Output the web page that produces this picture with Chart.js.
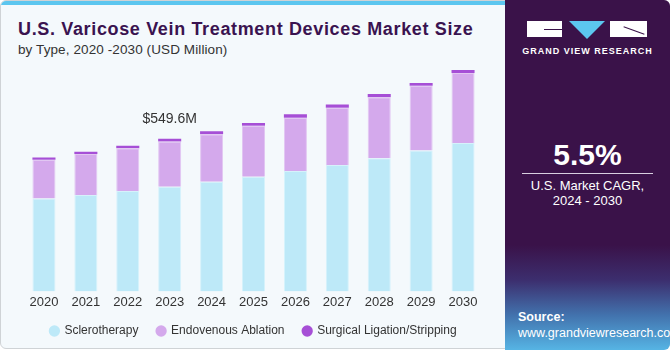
<!DOCTYPE html>
<html>
<head>
<meta charset="utf-8">
<script src="https://cdn.jsdelivr.net/npm/chart.js@4.4.1/dist/chart.umd.min.js"></script>
<style>
  html, body { margin: 0; padding: 0; background: #ffffff; }
  body { width: 670px; height: 350px; position: relative; overflow: hidden; font-family: "Liberation Sans", Arial, sans-serif; }
  #card { position: absolute; left: 0; top: 0; width: 668px; height: 347px; border: 1px solid #cfd3d6; border-radius: 6px; background: #f4f9fc; overflow: hidden; }
  #stripe { position: absolute; left: 0; top: 0; width: 100%; height: 4px; background: #5cc6ef; }
  #title { position: absolute; left: 17px; top: 18px; font-size: 18px; font-weight: bold; letter-spacing: 0.65px; color: #3a1350; white-space: nowrap; }
  #subtitle { position: absolute; left: 17px; top: 41px; font-size: 13.5px; letter-spacing: 0.1px; color: #333; white-space: nowrap; }
  #chartBox { position: absolute; left: 0; top: 60px; width: 500px; height: 290px; }
  #panel { position: absolute; left: 505px; top: 0; width: 165px; height: 350px; border-radius: 0 6px 6px 0;
    background: linear-gradient(to bottom, #3a1249 0%, #3a1249 70%, #3c2e6e 80%, #4272ad 90%, #56b4e4 100%); color: #fff; }
  .blk { position: absolute; background: #fff; }
  #tri { position: absolute; left: 64px; top: 21px; width: 0; height: 0; border-left: 18px solid transparent; border-right: 18px solid transparent; border-top: 18px solid #5cc6ef; }
  #brand { position: absolute; left: 0; width: 165px; top: 46px; text-align: center; font-size: 9px; font-weight: bold; letter-spacing: 1px; }
  #cagr { position: absolute; left: 0; width: 165px; top: 138px; text-align: center; font-size: 30px; font-weight: bold; }
  #rule { position: absolute; left: 17px; width: 131px; top: 173px; height: 1px; background: #d8cfe0; }
  #cagrText { position: absolute; left: 0; width: 165px; top: 178px; text-align: center; font-size: 13px; line-height: 15px; }
  #source { position: absolute; left: 13px; top: 309px; font-size: 12.5px; line-height: 16px; }
</style>
</head>
<body>
<div id="card">
  <div id="stripe"></div>
  <div id="title">U.S. Varicose Vein Treatment Devices Market Size</div>
  <div id="subtitle">by Type, 2020 -2030 (USD Million)</div>
  <div id="chartBox"><canvas id="marketChart"></canvas></div>
</div>
<div id="panel">
  <div class="blk" style="left:22px; top:21px; width:35px; height:16px;"></div>
  <div style="position:absolute; left:39px; top:29px; width:18px; height:1px; background:#3a1249;"></div>
  <div id="tri"></div>
  <div class="blk" style="left:105px; top:21px; width:37px; height:16px;"></div>
  <div style="position:absolute; left:118px; top:30px; width:22px; height:1px; background:#3a1249; transform: rotate(20deg);"></div>
  <div id="brand">GRAND VIEW RESEARCH</div>
  <div id="cagr">5.5%</div>
  <div id="rule"></div>
  <div id="cagrText">U.S. Market CAGR,<br>2024 - 2030</div>
  <div id="source"><b>Source:</b><br>www.grandviewresearch.com</div>
</div>

<script>
const years = ["2020", "2021", "2022", "2023", "2024", "2025", "2026", "2027", "2028", "2029", "2030"];
const sclerotherapy = [335, 347, 362, 377, 395, 413, 434, 455, 480, 508, 535];
const endovenousAblation = [139, 148, 154, 163, 171, 184, 192, 207, 219, 233, 252];
const surgicalLigation = [8, 8, 9, 9.6, 11, 10, 12, 11, 12, 10, 11];
const highlightIndex = 3;
const highlightLabel = "$549.6M";

// label above the highlighted year
const totalLabel = {
  id: "totalLabel",
  afterDatasetsDraw(chart) {
    const meta = chart.getDatasetMeta(2);
    const bar = meta.data[highlightIndex];
    const ctx = chart.ctx;
    ctx.save();
    ctx.font = "14px 'Liberation Sans', Arial, sans-serif";
    ctx.fillStyle = "#333333";
    ctx.textAlign = "center";
    ctx.textBaseline = "middle";
    ctx.fillText(highlightLabel, bar.x, bar.y - 20);
    ctx.restore();
  },
};

const defaultLabels = Chart.defaults.plugins.legend.labels.generateLabels;

const chart = new Chart(document.getElementById("marketChart"), {
  type: "bar",
  data: {
    labels: years,
    datasets: [
      {
        label: "Sclerotherapy",
        data: sclerotherapy,
        backgroundColor: "#bde9f8",
        borderColor: "#d6f2fb",
        borderWidth: 1,
      },
      {
        label: "Endovenous Ablation",
        data: endovenousAblation,
        backgroundColor: "#d4a9ec",
        borderColor: "#e2c6f2",
        borderWidth: 1,
      },
      {
        label: "Surgical Ligation/Stripping",
        data: surgicalLigation,
        backgroundColor: "#a64fd6",
        borderWidth: 0,
      },
    ],
  },
  options: {
    responsive: true,
    maintainAspectRatio: false,
    animation: false,
    layout: { padding: { left: 22, right: 17, top: 0, bottom: 4 } },
    datasets: { bar: { barPercentage: 0.55, categoryPercentage: 1 } },
    plugins: {
      legend: {
        position: "bottom",
        labels: {
          usePointStyle: true,
          pointStyle: "circle",
          boxWidth: 8,
          boxHeight: 8,
          padding: 12,
          color: "#333333",
          font: { size: 12, family: "'Liberation Sans', Arial, sans-serif" },
          // a little extra room between items
          generateLabels(chart) {
            const items = defaultLabels(chart);
            items.forEach((item, i) => {
              item.lineWidth = 0;
              if (i < items.length - 1) item.text = item.text + "  ";
            });
            return items;
          },
        },
      },
      tooltip: { enabled: false },
    },
    scales: {
      x: {
        stacked: true,
        grid: { display: false, drawTicks: false },
        border: { display: false },
        ticks: { color: "#333333", padding: 3, font: { size: 13, family: "'Liberation Sans', Arial, sans-serif" } },
      },
      y: {
        stacked: true,
        display: false,
        min: 0,
        max: 830,
      },
    },
  },
  plugins: [totalLabel],
});
</script>
</body>
</html>
